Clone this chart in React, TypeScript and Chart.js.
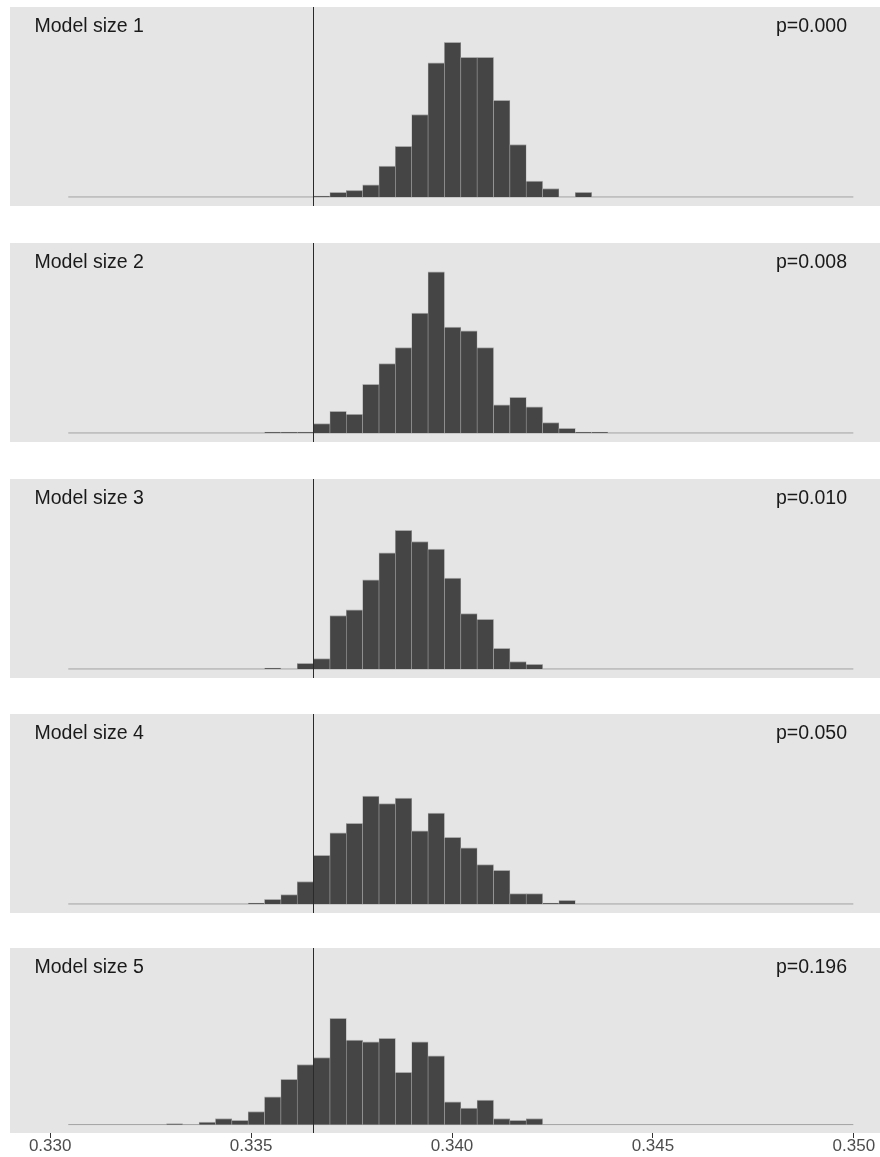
import React, { useEffect, useRef } from "react";
import { Chart, registerables } from "chart.js";

Chart.register(...registerables);

// ---- Data ----
const BIN_ORIGIN = 0.33045; // left edge of first histogram bin
const BIN_WIDTH = 0.000407;
const BIN_COUNT = 48;
const OBSERVED = 0.33655; // vertical reference line

const X_MIN = 0.329;
const X_MAX = 0.35065;
const X_TICKS = [0.33, 0.335, 0.34, 0.345, 0.35];
const X_TICK_LABELS = ["0.330", "0.335", "0.340", "0.345", "0.350"];

const Y_MIN = -9.65;
const Y_MAX = 202.65;

const PANEL_TITLES = ["Model size 1", "Model size 2", "Model size 3", "Model size 4", "Model size 5"];
const P_VALUES = ["p=0.000", "p=0.008", "p=0.010", "p=0.050", "p=0.196"];

// index of the first bin with data, per model size
const FIRST_BINS = [15, 12, 12, 11, 6];

const SIZE1_COUNTS = [1, 5, 7, 13, 33, 54, 88, 143, 165, 149, 149, 103, 56, 17, 9, 0, 5];
const SIZE2_COUNTS = [1, 1, 1, 10, 23, 20, 52, 74, 91, 128, 172, 113, 109, 91, 30, 38, 28, 11, 5, 1, 1];
const SIZE3_COUNTS = [1, 0, 6, 11, 57, 63, 95, 124, 148, 136, 128, 97, 59, 53, 22, 8, 5];
const SIZE4_COUNTS = [1, 5, 10, 24, 52, 76, 86, 115, 107, 113, 78, 97, 71, 60, 42, 36, 11, 11, 1, 4];
const SIZE5_COUNTS = [1, 0, 3, 7, 5, 15, 32, 52, 69, 77, 122, 97, 95, 99, 60, 95, 79, 26, 19, 28, 7, 5, 7];

const ALL_COUNTS = [SIZE1_COUNTS, SIZE2_COUNTS, SIZE3_COUNTS, SIZE4_COUNTS, SIZE5_COUNTS];

// ---- Layout / style ----
const PANEL_TOPS = [7, 243, 479, 714, 948];
const PANEL_HEIGHTS = [199, 199, 199, 199, 185];
const AXIS_HEIGHT = 24;
const PANEL_LEFT = 10;
const PANEL_WIDTH = 870;
const PANEL_BG = "#E5E5E5";
const BAR_FILL = "#454545";
const BAR_BORDER = "#a8a8a8";
const FONT_FAMILY = '"Liberation Sans", Arial, Helvetica, sans-serif';

const decorPlugin = {
  id: "panelDecor",
  beforeDraw(chart: any) {
    const { ctx, chartArea } = chart;
    const { left, top, right, bottom } = chartArea;
    ctx.save();
    ctx.fillStyle = PANEL_BG;
    ctx.fillRect(left, top, right - left, bottom - top);
    ctx.restore();
  },
  afterDatasetsDraw(chart: any, _args: any, opts: any) {
    const { ctx, chartArea } = chart;
    const { left, top, bottom } = chartArea;
    const xs = chart.scales.x;
    const px = Math.round(xs.getPixelForValue(OBSERVED)) + 0.5;
    ctx.save();
    ctx.strokeStyle = "#2a2a2a";
    ctx.lineWidth = 1;
    ctx.beginPath();
    ctx.moveTo(px, top);
    ctx.lineTo(px, bottom);
    ctx.stroke();

    ctx.fillStyle = "#1a1a1a";
    ctx.font = `19.5px ${FONT_FAMILY}`;
    ctx.textBaseline = "alphabetic";
    ctx.textAlign = "left";
    ctx.fillText(opts.title, left + 24.5, top + 25.3);
    ctx.textAlign = "right";
    ctx.fillText(opts.pvalue, left + 837, top + 25.3);
    ctx.restore();
  },
};

function Panel({ index }: { index: number }) {
  const ref = useRef<HTMLCanvasElement>(null);
  const showAxis = index === ALL_COUNTS.length - 1;
  const height = PANEL_HEIGHTS[index] + (showAxis ? AXIS_HEIGHT : 0);

  useEffect(() => {
    if (!ref.current) return;
    const counts = ALL_COUNTS[index];
    const first = FIRST_BINS[index];
    const bars = counts.map((c, j) => ({
      x: BIN_ORIGIN + (first + j + 0.5) * BIN_WIDTH,
      y: c,
    }));
    const baseline = [
      { x: BIN_ORIGIN, y: 0 },
      { x: BIN_ORIGIN + BIN_COUNT * BIN_WIDTH, y: 0 },
    ];

    const chart = new Chart(ref.current, {
      type: "bar",
      data: {
        datasets: [
          {
            type: "bar",
            data: bars as any,
            backgroundColor: BAR_FILL,
            borderColor: BAR_BORDER,
            borderWidth: { top: 1, left: 0.6, right: 0.6, bottom: 0 } as any,
            barPercentage: 1,
            categoryPercentage: 1,
            grouped: false,
            order: 0,
          } as any,
          {
            type: "line",
            data: baseline as any,
            borderColor: "#a3a3a3",
            borderWidth: 1,
            pointRadius: 0,
            order: 1,
          } as any,
        ],
      },
      options: {
        animation: false,
        responsive: false,
        devicePixelRatio: 1,
        layout: { padding: 0 },
        events: [],
        plugins: {
          legend: { display: false },
          tooltip: { enabled: false },
          panelDecor: { title: PANEL_TITLES[index], pvalue: P_VALUES[index] },
        } as any,
        scales: {
          x: {
            type: "linear",
            min: X_MIN,
            max: X_MAX,
            offset: false,
            display: showAxis,
            afterBuildTicks: (scale: any) => {
              scale.ticks = X_TICKS.map((v) => ({ value: v }));
            },
            afterFit: (scale: any) => {
              if (showAxis) scale.height = AXIS_HEIGHT;
            },
            grid: {
              offset: false,
              drawOnChartArea: false,
              drawTicks: true,
              tickLength: 5,
              color: "#333333",
              lineWidth: 1,
            },
            border: { display: false },
            ticks: {
              padding: 0,
              color: "#4d4d4d",
              font: { family: FONT_FAMILY, size: 17, lineHeight: 1 },
              maxRotation: 0,
              autoSkip: false,
              callback: (_v: any, i: number) => X_TICK_LABELS[i],
            },
          },
          y: {
            display: false,
            min: Y_MIN,
            max: Y_MAX,
          },
        },
      } as any,
      plugins: [decorPlugin],
    });
    return () => chart.destroy();
  }, [index]);

  return (
    <div
      style={{
        position: "absolute",
        left: PANEL_LEFT,
        top: PANEL_TOPS[index],
        width: PANEL_WIDTH,
        height,
      }}
    >
      <canvas ref={ref} width={PANEL_WIDTH} height={height} style={{ display: "block" }} />
    </div>
  );
}

export default function App() {
  useEffect(() => {
    document.body.style.margin = "0";
  }, []);
  return (
    <div
      style={{
        position: "relative",
        width: 880,
        height: 1157,
        overflow: "hidden",
        background: "#ffffff",
      }}
    >
      {ALL_COUNTS.map((_, i) => (
        <Panel key={i} index={i} />
      ))}
    </div>
  );
}
